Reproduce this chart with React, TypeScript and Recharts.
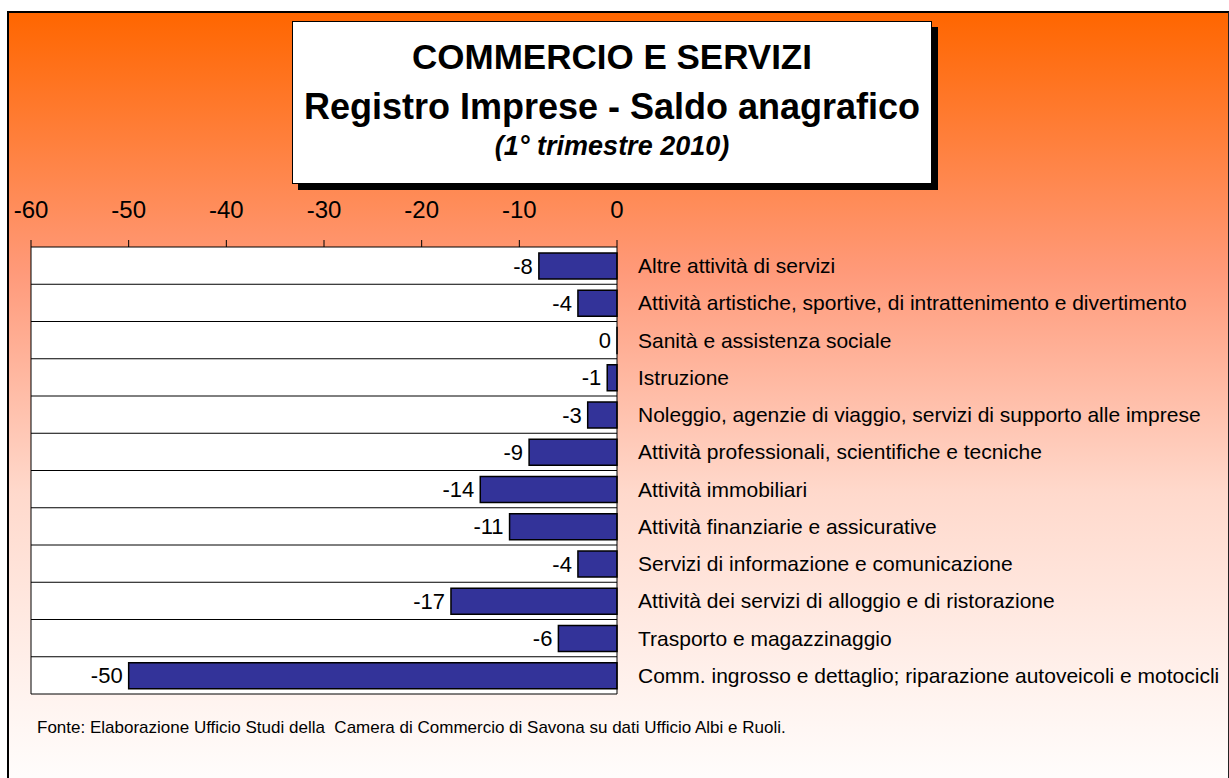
import React from "react";
import {
  BarChart,
  Bar,
  XAxis,
  YAxis,
  CartesianGrid,
  LabelList,
} from "recharts";

const categories = [
  "Altre attività di servizi",
  "Attività artistiche, sportive, di intrattenimento e divertimento",
  "Sanità e assistenza sociale",
  "Istruzione",
  "Noleggio, agenzie di viaggio, servizi di supporto alle imprese",
  "Attività professionali, scientifiche e tecniche",
  "Attività immobiliari",
  "Attività finanziarie e assicurative",
  "Servizi di informazione e comunicazione",
  "Attività dei servizi di alloggio e di ristorazione",
  "Trasporto e magazzinaggio",
  "Comm. ingrosso e dettaglio; riparazione autoveicoli e motocicli",
];

const saldo = [-8, -4, 0, -1, -3, -9, -14, -11, -4, -17, -6, -50];

const xTicks = [-60, -50, -40, -30, -20, -10, 0];

const data = categories.map((name, i) => ({ name, saldo: saldo[i] }));

const font = "Arial, 'Liberation Sans', sans-serif";

// value label drawn just left of the bar's end (bars are negative)
const ValueLabel = (props: any) => {
  const { x, y, width, height, value } = props;
  const left = Math.min(x, x + width);
  return (
    <text
      x={left - 6}
      y={y + height / 2}
      textAnchor="end"
      dominantBaseline="central"
      fontSize={22}
      fontFamily={font}
      fill="#000"
    >
      {String(value)}
    </text>
  );
};

const App = () => {
  return (
    <div
      style={{
        position: "absolute",
        left: 0,
        top: 0,
        width: 1229,
        height: 778,
        overflow: "hidden",
        fontFamily: font,
        background: "#fff",
      }}
    >
      {/* orange frame */}
      <div
        style={{
          position: "absolute",
          left: 7,
          top: 11,
          width: 1219,
          height: 790,
          borderLeft: "2px solid #000",
          borderTop: "2px solid #000",
          borderRight: "2px solid #222",
          background:
            "linear-gradient(to bottom, #ff6600 0px, #ff9a7a 260px, #ffd9cc 480px, #fff4f0 690px, #ffffff 790px)",
        }}
      />

      <div style={{ position: "absolute", left: 0, top: 0 }}>
        <BarChart
          width={1229}
          height={778}
          data={data}
          layout="vertical"
          barSize={26}
          margin={{ top: 200, right: 0, bottom: 84, left: 31 }}
        >
          <CartesianGrid
            fill="#ffffff"
            fillOpacity={1}
            stroke="#000"
            strokeWidth={1}
            horizontalCoordinatesGenerator={({ offset }: any) =>
              categories.map(
                (_, i) => offset.top + ((i + 1) * offset.height) / categories.length
              )
            }
            verticalCoordinatesGenerator={({ offset }: any) => [offset.left]}
          />
          <XAxis
            type="number"
            orientation="top"
            domain={[-60, 0]}
            ticks={xTicks}
            height={47}
            tickSize={7}
            tickMargin={22}
            axisLine={{ stroke: "#000" }}
            tickLine={{ stroke: "#000" }}
            tick={{ fontSize: 24, fill: "#000", fontFamily: font }}
          />
          <YAxis
            type="category"
            dataKey="name"
            orientation="right"
            width={612}
            tickSize={0}
            tickMargin={21}
            axisLine={{ stroke: "#000" }}
            tick={{ fontSize: 21, fill: "#000", fontFamily: font }}
            interval={0}
          />
          <Bar
            dataKey="saldo"
            fill="#333399"
            stroke="#000"
            strokeWidth={1.5}
            minPointSize={0.01}
            isAnimationActive={false}
          >
            <LabelList dataKey="saldo" content={ValueLabel} />
          </Bar>
        </BarChart>
      </div>

      {/* title box */}
      <div
        style={{
          position: "absolute",
          left: 292,
          top: 21,
          width: 638,
          height: 161,
          background: "#fff",
          border: "1px solid #000",
          boxShadow: "6px 6px 0 #000",
          textAlign: "center",
          color: "#000",
        }}
      >
        <div
          style={{
            position: "absolute",
            left: 0,
            right: 0,
            top: 15,
            fontSize: 35,
            fontWeight: "bold",
            lineHeight: "40px",
          }}
        >
          COMMERCIO E SERVIZI
        </div>
        <div
          style={{
            position: "absolute",
            left: 0,
            right: 0,
            top: 64,
            fontSize: 36,
            fontWeight: "bold",
            lineHeight: "42px",
          }}
        >
          Registro Imprese - Saldo anagrafico
        </div>
        <div
          style={{
            position: "absolute",
            left: 0,
            right: 0,
            top: 108,
            fontSize: 27,
            fontWeight: "bold",
            fontStyle: "italic",
            lineHeight: "32px",
          }}
        >
          (1° trimestre 2010)
        </div>
      </div>

      <div
        style={{
          position: "absolute",
          left: 37,
          top: 718,
          fontSize: 17,
          color: "#000",
          whiteSpace: "nowrap",
        }}
      >
        Fonte: Elaborazione Ufficio Studi della&nbsp; Camera di Commercio di Savona su dati Ufficio Albi e Ruoli.
      </div>
    </div>
  );
};

export default App;
